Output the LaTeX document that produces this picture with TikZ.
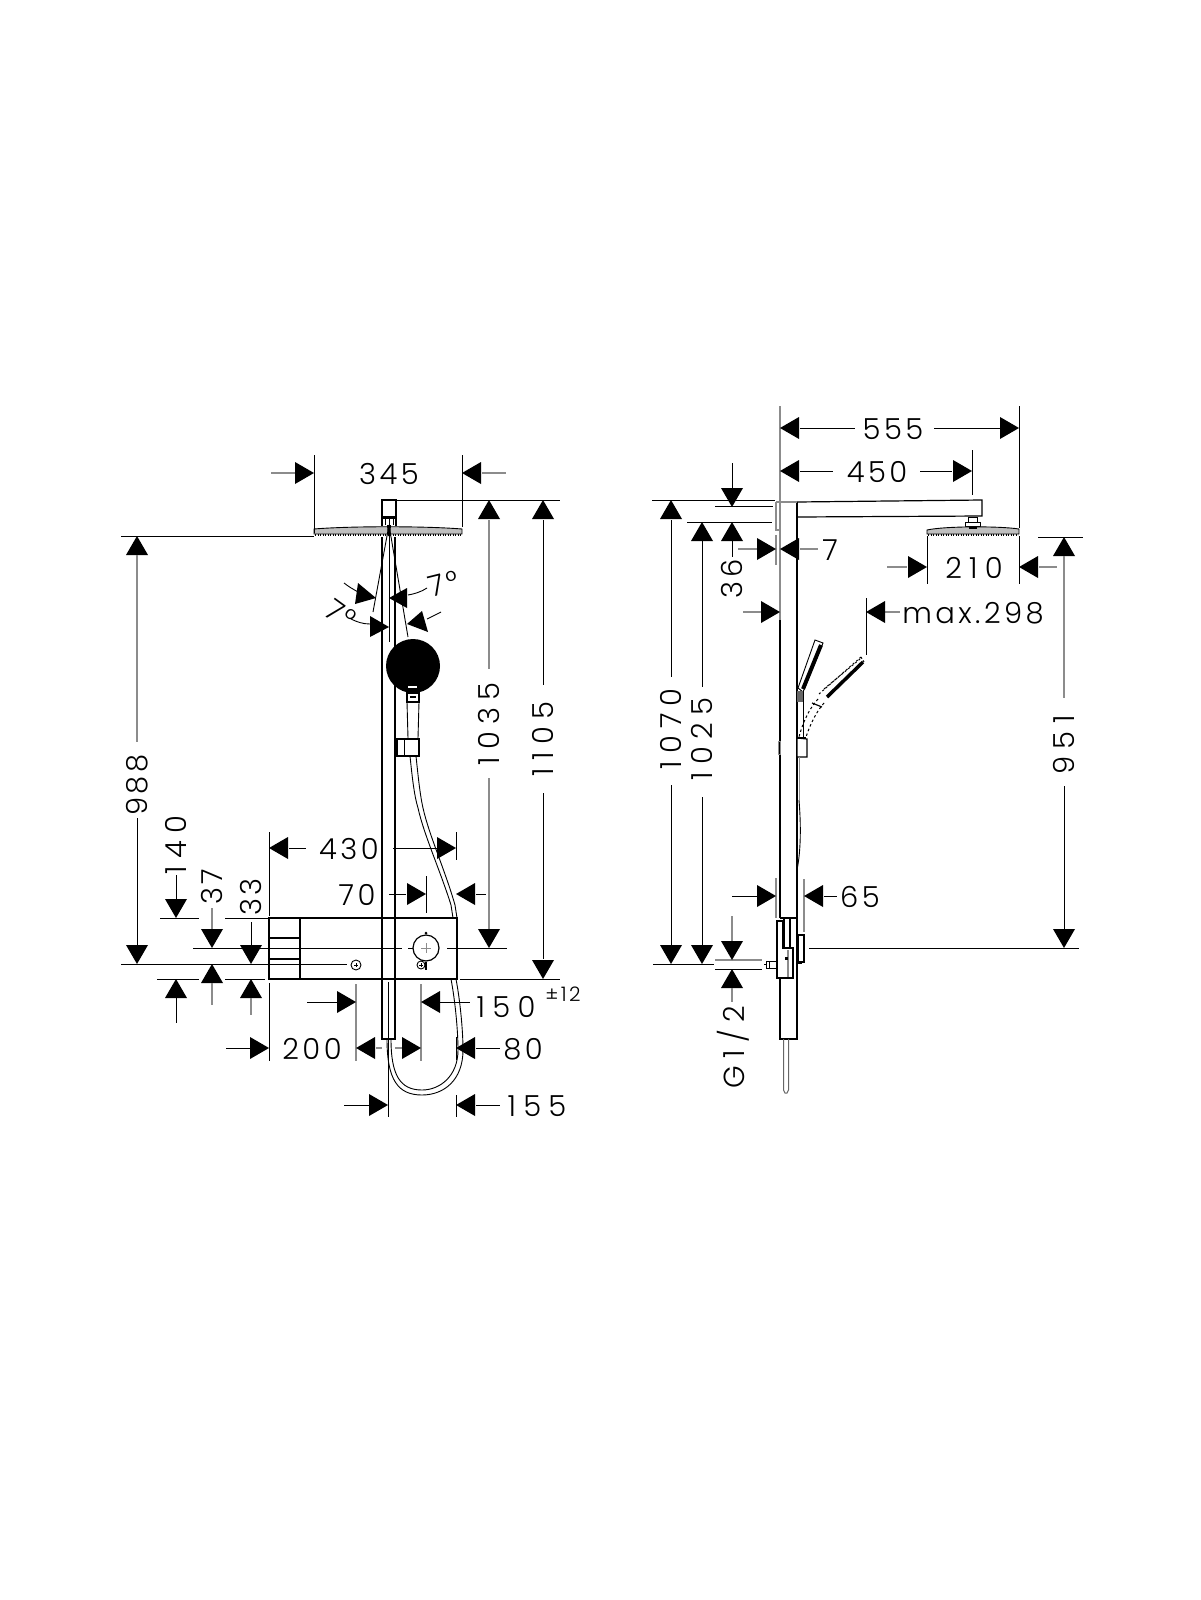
\documentclass[tikz,border=0pt]{standalone}
\usepackage{fontspec}
\newfontfamily\dimf[LetterSpace=12]{Poppins Light}
\newfontfamily\dimw[LetterSpace=25]{Poppins Light}
\newcommand{\aR}[2]{\fill[black] (#1,#2) -- ++(-19,-11) -- ++(0,22) -- cycle;}
\newcommand{\aL}[2]{\fill[black] (#1,#2) -- ++(19,-11) -- ++(0,22) -- cycle;}
\newcommand{\aU}[2]{\fill[black] (#1,#2) -- ++(-11,19) -- ++(22,0) -- cycle;}
\newcommand{\aD}[2]{\fill[black] (#1,#2) -- ++(-11,-19) -- ++(22,0) -- cycle;}
\tikzset{
  ln/.style={draw=black,line width=0.9pt},
  gl/.style={draw=black!45,line width=1.3pt},
  thk/.style={draw=black,line width=1.6pt},
  dim/.style={font=\dimf\fontsize{29}{30}\selectfont,inner sep=0pt,text=black},
  dimwide/.style={font=\dimw\fontsize{29}{30}\selectfont,inner sep=0pt,text=black},
  sm/.style={font=\dimf\fontsize{20}{22}\selectfont,inner sep=0pt,text=black},
  vd/.style={dim,rotate=90},
  vw/.style={dimwide,rotate=90}
}
\begin{document}
\begin{tikzpicture}[x=1pt,y=-1pt]
\useasboundingbox (0,0) rectangle (1200,1600);
\fill[white] (0,0) rectangle (1200,1600);

%% ===== LEFT VIEW =====
% column
\draw[ln,line width=1.2pt] (382,537) -- (382,1039) -- (395,1039) -- (395,537);
% top block
\draw[ln,line width=1.2pt] (382,526) -- (382,500) -- (396,500) -- (396,526);
\draw[ln] (382,516) -- (396,516);
\fill[black] (382,517) rectangle (396,519);
\draw[ln] (385,519) -- (385,525) (393,519) -- (393,525) (389,519)--(389,525);
% head
\draw[ln,fill=black!25] (314,529) .. controls (350,526) and (425,526) .. (462,529) -- (462,534) -- (314,534) -- cycle;
\draw[draw=black,line width=2.4pt,dash pattern=on 1.4pt off 1.1pt] (315,535.2) -- (461,535.2);
\fill[black] (387,525) -- (391,525) -- (390,536) -- (388,536) -- cycle;
% angle lines
\draw[ln] (389,525) -- (389,642);
\draw[ln] (389,525) -- (373,612);
\draw[ln] (389,525) -- (408,637);
% angle arrows
\fill[black] (376,598) -- (358,583) -- (355,604) -- cycle;
\fill[black] (389,598) -- (407,588) -- (407,608) -- cycle;
\fill[black] (389,627) -- (370,616) -- (370,637) -- cycle;
\fill[black] (407,624) -- (422,611) -- (428,632) -- cycle;
\draw[ln] (344,583) .. controls (349,587) and (353,589) .. (358,592);
\draw[ln] (408,595) .. controls (414,594) and (421,592) .. (427,588);
\draw[ln] (370,624) .. controls (363,624) and (357,622) .. (351,619);
\draw[ln] (427,619) -- (441,612);
\node[dim,rotate=14] (t7a) at (436,586) {7};
\node[dim,rotate=14] (t7ad) at (453,581) {°};
\node[dim,rotate=-36] (t7b) at (335,611) {7};
\node[dim,rotate=-36] (t7bd) at (348,619) {°};
% hand shower
\draw[ln,line width=1.2pt,fill=white] (407,693) rectangle (419,702);
\fill[black] (410,696) rectangle (416,698);
\draw[ln] (407,702) -- (408,738) (419,702) -- (418,738);
\fill[black] (413,666) circle[radius=27];
\fill[white] (408,686) rectangle (417,688);
\draw[ln,line width=1.2pt] (397,739) rectangle (419,756);
\draw[ln] (404,739) -- (404,756) (396,742) -- (396,754);
\fill[black] (407,738) rectangle (419,740);
% hose
\draw[ln] (410,756) .. controls (412,775) and (414,795) .. (418,808) .. controls (424,835) and (440,870) .. (451,905) -- (453,918);
\draw[ln] (416,756) .. controls (418,775) and (420,795) .. (423,808) .. controls (429,835) and (445,870) .. (455,905) -- (457,918);
\draw[ln] (451,979) .. controls (455,1000) and (458,1030) .. (458,1050) .. controls (458,1076) and (440,1090) .. (422,1090) .. controls (400,1090) and (391,1075) .. (391,1039);
\draw[ln] (456,979) .. controls (460,1000) and (463,1030) .. (463,1050) .. controls (463,1080) and (444,1095) .. (422,1095) .. controls (398,1095) and (387,1080) .. (387,1039);
% valve box
\fill[white] (269,918) rectangle (457,979);
\draw[ln,line width=1.2pt] (269,918) rectangle (457,979);
\draw[thk,line width=1.8pt] (300,918) -- (300,979);
\draw[ln,line width=1.5pt] (269,938) -- (300,938) (269,959) -- (300,959);
\draw[ln,line width=1.2pt] (382,917) -- (382,979) (395,917) -- (395,979);
\draw[thk] (382,917.5) -- (395,917.5);
\draw[ln] (388,982) -- (388,1039);
% knob
\draw[ln,line width=1.2pt] (426,948) circle[radius=13];
\draw[gl,line width=0.9pt] (421,948) -- (431,948) (426,943) -- (426,953);
\fill[black] (426,933) circle[radius=1.5];
\draw[ln] (421,965) circle[radius=4];
\draw[ln] (419,965) -- (423,965) (421,963) -- (421,967);
\fill[black] (425,962) rectangle (427,970);
\draw[ln] (356,965) circle[radius=5];
\draw[ln] (354,965) -- (358,965) (356,963) -- (356,967);
% centre lines
\draw[ln] (193,948) -- (402,948) (408,948) -- (413,948) (447,948) -- (507,948);
\draw[ln] (121,964) -- (347,964);

% 345
\draw[ln] (314,455) -- (314,533) (462,455) -- (462,527);
\draw[gl] (271,473) -- (295,473) (482,473) -- (506,473);
\aR{314}{473} \aL{462}{473}
\node[dim] (t345) at (389,474) {345};
% 988
\draw[ln] (121,536) -- (314,536);
\aU{137}{536} \aD{137}{964}
\draw[gl] (137,555) -- (137,742);
\draw[ln] (137,818) -- (137,945);
\node[vd] (t988) at (137,785) {988};
% 1035 / 1105
\draw[ln] (397,500) -- (560,500);
\aU{489}{500} \aD{489}{948}
\draw[gl] (489,520) -- (489,669) (489,778) -- (489,929);
\node[vw] (t1035) at (489,724) {1035};
\aU{543}{500} \aD{543}{979}
\draw[ln] (543,520) -- (543,685) (543,793) -- (543,959);
\node[vw] (t1105) at (543,739) {1105};
\draw[ln] (460,979) -- (560,979);
% 430
\draw[ln] (269,832) -- (269,916) (456,832) -- (456,860);
\draw[ln] (289,848) -- (306,848) (393,848) -- (437,848);
\aL{269}{848} \aR{456}{848}
\node[dim] (t430) at (349,849) {430};
% 70
\draw[ln] (426,876) -- (426,913) (389,894) -- (406,894) (476,894) -- (486,894);
\aR{426}{894} \aL{456}{894}
\node[dim] (t70) at (357,895) {70};
% 140
\draw[ln] (160,918) -- (199,918) (225,918) -- (268,918);
\draw[ln] (157,979) -- (199,979) (225,979) -- (265,979);
\aD{176}{918} \aU{176}{979}
\draw[ln] (176,875) -- (176,899) (176,998) -- (176,1023);
\node[vw] (t140) at (176,845) {140};
% 37
\aD{212}{948} \aU{212}{964}
\draw[gl] (212,908) -- (212,929) (212,983) -- (212,1005);
\node[vd] (t37) at (212,887) {37};
% 33
\aD{251}{964} \aU{251}{979}
\draw[ln] (251,922) -- (251,945);
\draw[gl] (251,998) -- (251,1015);
\node[vd] (t33) at (251,897) {33};
% 150
\draw[gl] (356,984) -- (356,1061) (421,984) -- (421,1061);
\draw[ln] (307,1002) -- (337,1002) (440,1002) -- (470,1002);
\aR{356}{1002} \aL{421}{1002}
\node[dimwide] (t150) at (506,1007) {150};
\node[sm] (t12) at (563,994) {±12};
% 200 / 80
\draw[ln] (269,983) -- (269,1061) (456,1037) -- (456,1060);
\aR{269}{1048} \aL{356}{1048} \aR{421}{1048} \aL{456}{1048}
\draw[ln] (226,1048) -- (250,1048) (476,1048) -- (500,1048);
\draw[gl] (376,1048) -- (382,1048) (395,1048) -- (402,1048);
\node[dim] (t200) at (312,1049) {200};
\node[dim] (t80) at (523,1049) {80};
% 155
\draw[ln] (388,1039) -- (388,1117) (456,1095) -- (456,1117);
\aR{388}{1105} \aL{456}{1105}
\draw[ln] (344,1105) -- (369,1105) (476,1105) -- (500,1105);
\node[dimwide] (t155) at (537,1106) {155};

%% ===== RIGHT VIEW =====
% column
\draw[gl,line width=1.5pt] (780,406) -- (780,620);
\draw[ln,line width=1.2pt] (780,620) -- (780,918) (780,978) -- (780,1039) -- (797,1039) -- (797,502);
\draw[gl] (776,502) -- (797,502) (776,502) -- (776,530) -- (780,530);
\draw[gl] (776,535) -- (776,565);
% arm
\draw[ln,line width=1.2pt] (797,502) -- (982,500) -- (982,516) -- (797,517);
% head connector
\draw[ln] (968,517) rectangle (977,522);
\draw[ln,fill=white] (965,522) rectangle (980,526);
\draw[ln,fill=black!25] (927,530) .. controls (945,526) and (1000,526) .. (1019,529) -- (1019,534) -- (927,534) -- cycle;
\draw[draw=black,line width=2.4pt,dash pattern=on 1.4pt off 1.1pt] (928,535.2) -- (1018,535.2);
\fill[black] (969,527) rectangle (977,529);
% hand shower side (upper)
\draw[ln,fill=white] (815,640) -- (823,643) -- (803,692) -- (798,688) -- cycle;
\draw[draw=black,line width=4pt] (821,645) -- (803,689);
\draw[ln] (797,691) rectangle (803,737);
\fill[black!60] (797,691) rectangle (803,702);
% hand shower side (dashed)
\draw[draw=black,line width=1pt,dash pattern=on 2pt off 2.5pt] (819,694) -- (861,657);
\draw[draw=black,line width=1pt,dash pattern=on 2pt off 2.5pt] (824,689) -- (860,659);
\draw[draw=black,line width=1pt,dash pattern=on 2pt off 2pt] (861,657) -- (864,662);
\draw[draw=black,line width=3.5pt] (863,662) -- (827,697);
\draw[draw=black,line width=1pt,dash pattern=on 2.5pt off 2.5pt] (818,699) .. controls (808,710) and (802,725) .. (799,737);
\draw[draw=black,line width=1pt,dash pattern=on 2.5pt off 2.5pt] (824,703) .. controls (816,712) and (810,725) .. (806,737);
\draw[ln,line width=1.2pt] (812,703) -- (822,707);
% bracket
\draw[ln,line width=1.2pt,fill=white] (797,738) -- (807,739) -- (807,757) -- (797,757) -- cycle;
\fill[black] (797,737) rectangle (806,739);
\draw[gl,line width=1pt] (778,741) rectangle (780,754);
% hose
\draw[gl,line width=1pt] (799,757) -- (799,800);
\draw[ln] (799,800) .. controls (801,825) and (801,850) .. (797,870);
% valve
\draw[ln,line width=1.2pt] (780,918) -- (797,918);
\draw[ln,line width=1.3pt,fill=white] (777,921) -- (783,921) -- (783,948) -- (793,948) -- (793,978) -- (777,978) -- cycle;
\draw[ln,line width=1.2pt] (784,919) -- (784,948) -- (790,948) -- (790,919);
\draw[gl] (788,950) -- (788,977);
\fill[black] (785,957) rectangle (788,960);
\draw[ln,line width=1.2pt] (798,935) rectangle (804,962);
\fill[black] (798,933.5) rectangle (802,935.5);
\fill[black] (798,962) rectangle (802,964);
\draw[ln] (766,961) rectangle (776,968) (769,961) -- (769,968);
\draw[ln] (764,964.5) -- (766,964.5);
% rod
\draw[draw=black!60,line width=1pt] (783.5,1039) -- (783.5,1090) -- (785,1093) -- (787,1093) -- (788.5,1090) -- (788.5,1039);

% 555
\draw[ln] (800,428) -- (855,428) (934,428) -- (1000,428) (1019,406) -- (1019,528);
\aL{780}{428} \aR{1019}{428}
\node[dim] (t555) at (893,429) {555};
% 450
\draw[ln] (800,471) -- (833,471) (920,471) -- (952,471) (972,450) -- (972,495);
\aL{780}{471} \aR{972}{471}
\node[dim] (t450) at (877,472) {450};
% 1070
\draw[ln] (652,500) -- (775,500);
\aU{671}{500} \aD{671}{964}
\draw[ln] (671,520) -- (671,677) (671,785) -- (671,945);
\node[vw] (t1070) at (671,729) {1070};
% 1025
\draw[ln] (687,522) -- (772,522);
\aU{702}{522} \aD{702}{964}
\draw[ln] (702,541) -- (702,687) (702,797) -- (702,945);
\node[vw] (t1025) at (702,739) {1025};
\draw[ln] (715,506) -- (773,506);
% 36
\aD{732}{507} \aU{732}{522}
\draw[ln] (732,463) -- (732,488) (732,541) -- (732,557);
\node[vd] (t36) at (732,579) {36};
% 7
\draw[gl] (738,549) -- (757,549) (800,549) -- (818,549);
\aR{776}{549} \aL{780}{549}
\node[dim] (t7) at (830,550) {7};
% max.298
\draw[gl] (743,612) -- (761,612) (885,612) -- (900,612);
\draw[ln] (866,598) -- (866,655);
\aR{780}{612} \aL{866}{612}
\node[dim] (tmax) at (973,613) {max.298};
% 210
\draw[ln] (927,536) -- (927,584) (1019,536) -- (1019,584);
\draw[gl] (887,567) -- (907,567) (1039,567) -- (1057,567);
\aR{927}{567} \aL{1019}{567}
\node[dimwide] (t210) at (974,568) {210};
% 951
\draw[ln] (1038,537) -- (1083,537);
\aU{1064}{537} \aD{1064}{948}
\draw[gl] (1064,556) -- (1064,698);
\draw[ln] (1064,786) -- (1064,929);
\node[vw] (t951) at (1064,745) {951};
\draw[ln] (809,948) -- (1079,948);
% 964 line and G1/2
\draw[ln] (653,964) -- (714,964);
\draw[gl] (715,960) -- (762,960);
\draw[ln] (715,969) -- (762,969);
\aD{732}{960} \aU{732}{969}
\draw[gl] (732,916) -- (732,941) (732,988) -- (732,1002);
\node[vw] (tg) at (733,1047) {G1/2};
% 65
\draw[gl] (776,878) -- (776,918) (804,879) -- (804,932);
\draw[ln] (732,896) -- (757,896) (824,896) -- (837,896);
\aR{776}{896} \aL{804}{896}
\node[dim] (t65) at (860,897) {65};
\end{tikzpicture}
\end{document}
